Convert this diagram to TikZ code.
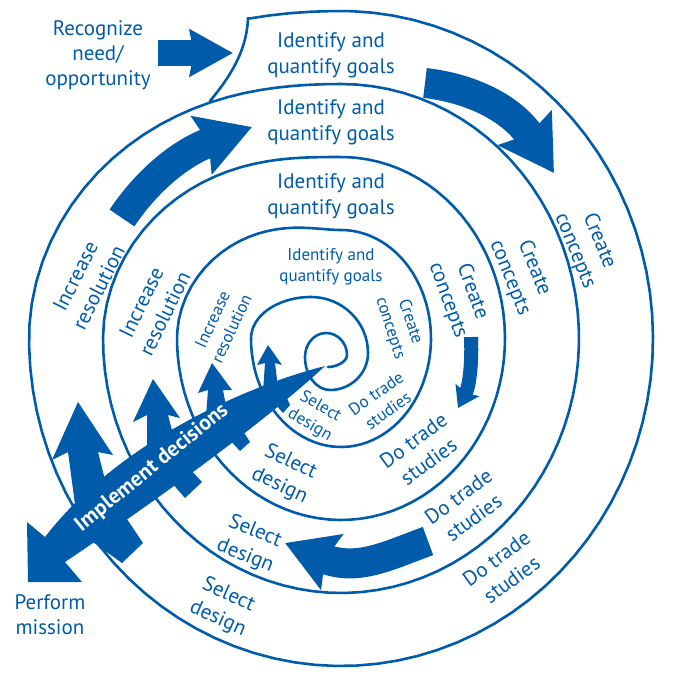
\documentclass[tikz,border=0pt]{standalone}
\usepackage{fontspec}
\setmainfont{PT Sans}
\usetikzlibrary{arrows.meta}
\definecolor{nasablue}{RGB}{0,91,170}

\begin{document}
\begin{tikzpicture}[x=1pt, y=-1pt,
  declare function={sg(\t)=min(mod(\t+90,360)/90,1);
    lev(\t)=floor((\t+90)/360)-1+3*sg(\t)^2-2*sg(\t)^3;},
  spiral/.style={draw=nasablue, line width=2.6pt, line cap=round},
  bigarrow/.style={draw=nasablue, line width=30pt, -{Stealth[length=53pt, width=62pt, inset=7pt]}},
  lbl/.style={text=nasablue, align=center, font=\fontsize{21}{26}\selectfont},
  lblsmall/.style={text=nasablue, align=center, font=\fontsize{17}{21}\selectfont}
]
\useasboundingbox (0,0) rectangle (672,695);

% the spiral
\draw[spiral] (210,101) .. controls (236,70) and (247,45) .. (248,18);
\draw[spiral] plot[domain=-17:1350, samples=360, variable=\p]
  ({341+(312-74*lev(\p))*sin(\p)}, {338.5-(327.5-73*lev(\p))*cos(\p)});
\draw[spiral] (251,338.5) .. controls (251,315.6) and (277.9,297) .. (311,297)
  .. controls (342.5,297) and (368,322.1) .. (368,353)
  .. controls (368,373.4) and (351,390) .. (330,390)
  .. controls (316.2,390) and (305,375.2) .. (305,357)
  .. controls (305,343.7) and (314.4,333) .. (326,333)
  .. controls (337.6,333) and (347,342.9) .. (347,355)
  .. controls (347,362) and (336,367) .. (328,367);

% process arrows
\draw[draw=nasablue, line width=26pt, -{Stealth[length=43pt, width=46pt, inset=4pt]}] (158,53) -- (233,53);
\draw[bigarrow] (425,83) .. controls (470,88) and (512,108) .. (554,173);
\draw[bigarrow, -{Stealth[length=53pt, width=60pt, inset=7pt]}] (122,218) .. controls (144,185) and (177,154) .. (252,127);
\draw[bigarrow, -{Stealth[length=50pt, width=58pt, inset=7pt]}] (428,541) .. controls (387,556) and (357,572) .. (285,543);
\draw[draw=nasablue, line width=14pt, -{Stealth[length=20pt, width=26pt, inset=3pt]}] (471,337) .. controls (472,360) and (470,385) .. (458,408);

% implement decisions
\fill[nasablue] (325,366) .. controls (250,385) and (120,440) .. (45,537) -- (27,522) -- (28,582)
  -- (82,582) -- (65,562) .. controls (150,505) and (265,422) .. (325,366) -- cycle;
\fill[nasablue] (90,540) -- (122,563) -- (143,543) -- (125,516) -- cycle;
\fill[nasablue] (171,482) -- (185,498) -- (202,482) -- (190,469) -- cycle;
\fill[nasablue] (228,438) -- (240,451) -- (250,442) -- (241,428) -- cycle;
\fill[nasablue] (275,404) -- (283,413) -- (290,405) -- (285,394) -- cycle;
\fill[nasablue] (76,512) -- (68,452) -- (52,460) -- (78,402) -- (113,455) -- (98,452) -- (105,480) -- cycle;
\fill[nasablue] (147,449) -- (147,415) -- (133,422) -- (153,379) -- (180,418) -- (168,415) -- (173,434) -- cycle;
\fill[nasablue] (206,416) -- (208,390) -- (198,393) -- (212,363) -- (232,390) -- (223,390) -- (226,406) -- cycle;
\fill[nasablue] (263,392) -- (265,363) -- (257,365) -- (268,345) -- (282,365) -- (275,363) -- (278,388) -- cycle;
\node[text=white, font=\fontsize{21.5}{24}\selectfont\bfseries, rotate=39] (implement) at (152,468) {Implement decisions};

% labels
\node[lbl, font=\fontsize{21}{25}\selectfont] (recognize) at (98,55) {Recognize\\need/\\opportunity};
\node[lbl, font=\fontsize{21}{25}\selectfont] (perform) at (50,615) {Perform\\mission};

\node[lbl] (goals0) at (331,55) {Identify and\\quantify goals};
\node[lbl] (goals1) at (331,122) {Identify and\\quantify goals};
\node[lbl] (goals2) at (331,196) {Identify and\\quantify goals};
\node[lblsmall] (goals3) at (331,267) {Identify and\\quantify goals};

\node[lbl, rotate=-68] (concepts0) at (587,246) {Create\\concepts};
\node[lbl, rotate=-68] (concepts1) at (522,273) {Create\\concepts};
\node[lbl, rotate=-70] (concepts2) at (460,296) {Create\\concepts};
\node[lblsmall, rotate=-72] (concepts3) at (400,325) {Create\\concepts};

\node[lbl, rotate=36] (trade0) at (504,569) {Do trade\\studies};
\node[lbl, rotate=36] (trade1) at (466,507) {Do trade\\studies};
\node[lbl, rotate=36] (trade2) at (421,451) {Do trade\\studies};
\node[lblsmall, rotate=35] (trade3) at (382,402) {Do trade\\studies};

\node[lbl, rotate=-24] (select0) at (223,607) {Select\\design};
\node[lbl, rotate=-22] (select1) at (250,544) {Select\\design};
\node[lbl, rotate=-25] (select2) at (285,474) {Select\\design};
\node[lblsmall, rotate=-30] (select3) at (315,416) {Select\\design};

\node[lbl, rotate=63] (resol0) at (87,282) {Increase\\resolution};
\node[lbl, rotate=64] (resol1) at (153,308) {Increase\\resolution};
\node[lblsmall, rotate=65] (resol2) at (222,324) {Increase\\resolution};
\end{tikzpicture}
\end{document}
